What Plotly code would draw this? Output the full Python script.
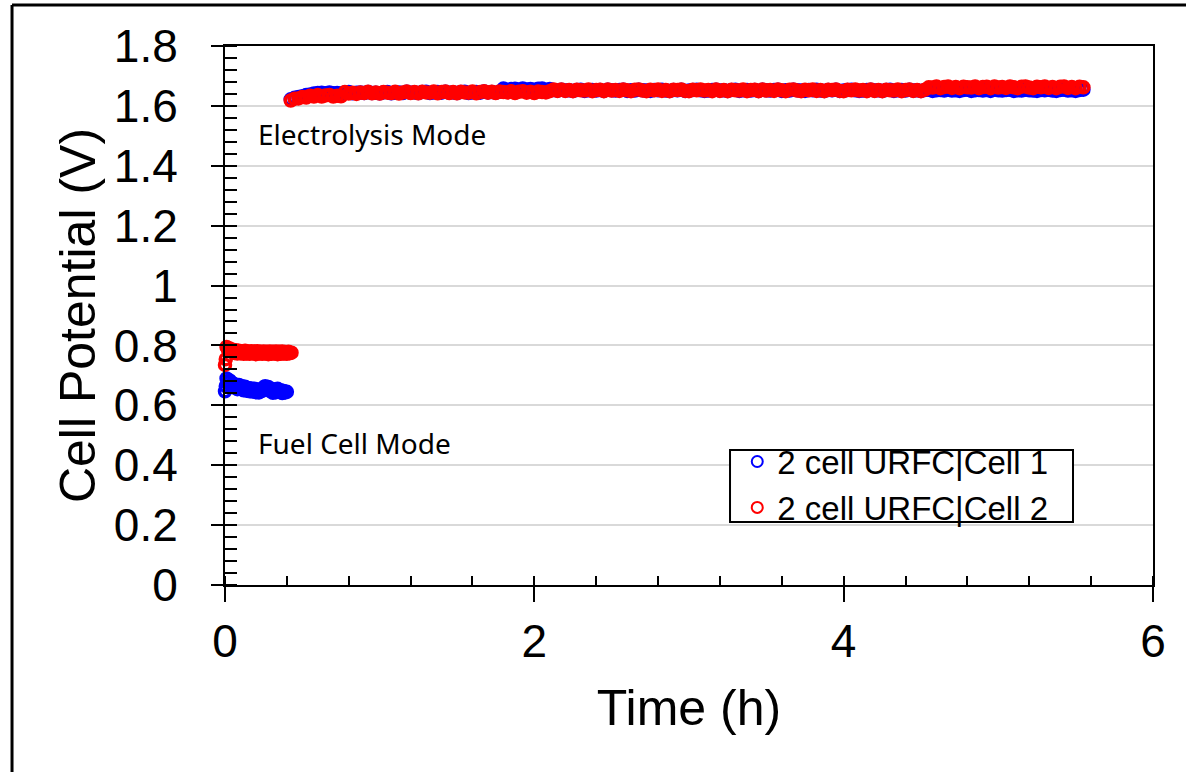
import plotly.graph_objects as go

# ---------------- data ----------------
t_fc = [0.0, 0.005, 0.01, 0.02, 0.03, 0.04, 0.05, 0.06, 0.07, 0.08, 0.09,
        0.10, 0.11, 0.12, 0.13, 0.14, 0.15, 0.16, 0.17, 0.18, 0.19,
        0.20, 0.21, 0.22, 0.23, 0.24, 0.25, 0.26, 0.27, 0.28, 0.29,
        0.30, 0.31, 0.32, 0.33, 0.34, 0.35, 0.36, 0.37, 0.38, 0.39,
        0.40, 0.41, 0.42, 0.43]

cell1_fc = [0.647, 0.664, 0.69, 0.676, 0.683, 0.665, 0.674, 0.66, 0.669, 0.654,
            0.668, 0.657, 0.664, 0.65, 0.662, 0.649, 0.658, 0.647, 0.656, 0.646,
            0.655, 0.644, 0.653, 0.643, 0.652, 0.648, 0.66, 0.664, 0.655, 0.661,
            0.648, 0.655, 0.642, 0.652, 0.644, 0.655, 0.646, 0.65, 0.641, 0.648,
            0.643, 0.645]

cell2_fc = [0.735, 0.754, 0.795, 0.784, 0.79, 0.779, 0.786, 0.775, 0.784, 0.773,
            0.782, 0.774, 0.781, 0.772, 0.782, 0.773, 0.78, 0.772, 0.781, 0.774,
            0.78, 0.771, 0.781, 0.773, 0.779, 0.772, 0.78, 0.773, 0.779, 0.771,
            0.78, 0.772, 0.779, 0.773, 0.78, 0.771, 0.779, 0.772, 0.78, 0.773,
            0.778, 0.772, 0.779, 0.774, 0.776]

t_ec = [0.425, 0.45, 0.475, 0.5, 0.525, 0.55, 0.575, 0.6, 0.625, 0.65,
        0.675, 0.7, 0.725, 0.75, 0.775, 0.8, 0.825, 0.85, 0.875, 0.9,
        0.925, 0.95, 0.975, 1.0, 1.025, 1.05, 1.075, 1.1, 1.125, 1.15,
        1.175, 1.2, 1.225, 1.25, 1.275, 1.3, 1.325, 1.35, 1.375, 1.4,
        1.425, 1.45, 1.475, 1.5, 1.525, 1.55, 1.575, 1.6, 1.625, 1.65,
        1.675, 1.7, 1.725, 1.75, 1.775, 1.8, 1.825, 1.85, 1.875, 1.9,
        1.925, 1.95, 1.975, 2.0, 2.025, 2.05, 2.075, 2.1, 2.125, 2.15,
        2.175, 2.2, 2.225, 2.25, 2.275, 2.3, 2.325, 2.35, 2.375, 2.4,
        2.425, 2.45, 2.475, 2.5, 2.525, 2.55, 2.575, 2.6, 2.625, 2.65,
        2.675, 2.7, 2.725, 2.75, 2.775, 2.8, 2.825, 2.85, 2.875, 2.9,
        2.925, 2.95, 2.975, 3.0, 3.025, 3.05, 3.075, 3.1, 3.125, 3.15,
        3.175, 3.2, 3.225, 3.25, 3.275, 3.3, 3.325, 3.35, 3.375, 3.4,
        3.425, 3.45, 3.475, 3.5, 3.525, 3.55, 3.575, 3.6, 3.625, 3.65,
        3.675, 3.7, 3.725, 3.75, 3.775, 3.8, 3.825, 3.85, 3.875, 3.9,
        3.925, 3.95, 3.975, 4.0, 4.025, 4.05, 4.075, 4.1, 4.125, 4.15,
        4.175, 4.2, 4.225, 4.25, 4.275, 4.3, 4.325, 4.35, 4.375, 4.4,
        4.425, 4.45, 4.475, 4.5, 4.525, 4.55, 4.575, 4.6, 4.625, 4.65,
        4.675, 4.7, 4.725, 4.75, 4.775, 4.8, 4.825, 4.85, 4.875, 4.9,
        4.925, 4.95, 4.975, 5.0, 5.025, 5.05, 5.075, 5.1, 5.125, 5.15,
        5.175, 5.2, 5.225, 5.25, 5.275, 5.3, 5.325, 5.35, 5.375, 5.4,
        5.425, 5.45, 5.475, 5.5, 5.525, 5.55]

cell1_ec = [1.622, 1.627, 1.63, 1.632, 1.636, 1.638, 1.641, 1.643, 1.644, 1.642,
            1.645, 1.642, 1.643, 1.641, 1.645, 1.646, 1.642, 1.644, 1.645, 1.643,
            1.646, 1.643, 1.644, 1.642, 1.645, 1.646, 1.642, 1.644, 1.645, 1.643,
            1.647, 1.644, 1.645, 1.643, 1.646, 1.647, 1.643, 1.645, 1.646, 1.644,
            1.647, 1.644, 1.645, 1.643, 1.646, 1.647, 1.643, 1.645, 1.646, 1.644,
            1.648, 1.645, 1.646, 1.644, 1.647, 1.658, 1.654, 1.656, 1.657, 1.655,
            1.658, 1.655, 1.656, 1.654, 1.657, 1.658, 1.654, 1.656, 1.653, 1.651,
            1.654, 1.651, 1.652, 1.65, 1.653, 1.654, 1.65, 1.652, 1.653, 1.651,
            1.653, 1.65, 1.654, 1.652, 1.651, 1.653, 1.654, 1.65, 1.652, 1.651,
            1.654, 1.652, 1.651, 1.65, 1.653, 1.652, 1.654, 1.651, 1.65, 1.653,
            1.652, 1.654, 1.65, 1.651, 1.653, 1.654, 1.652, 1.65, 1.651, 1.653,
            1.654, 1.651, 1.652, 1.65, 1.653, 1.654, 1.65, 1.652, 1.653, 1.651,
            1.653, 1.65, 1.654, 1.652, 1.651, 1.653, 1.654, 1.65, 1.652, 1.651,
            1.654, 1.652, 1.651, 1.65, 1.653, 1.652, 1.654, 1.651, 1.65, 1.653,
            1.652, 1.654, 1.65, 1.651, 1.653, 1.654, 1.652, 1.65, 1.651, 1.653,
            1.654, 1.651, 1.652, 1.65, 1.653, 1.654, 1.65, 1.652, 1.653, 1.651,
            1.654, 1.651, 1.652, 1.65, 1.653, 1.654, 1.65, 1.652, 1.653, 1.651,
            1.654, 1.651, 1.652, 1.65, 1.653, 1.654, 1.65, 1.652, 1.653, 1.651,
            1.653, 1.65, 1.654, 1.652, 1.651, 1.653, 1.654, 1.65, 1.652, 1.651,
            1.654, 1.652, 1.651, 1.65, 1.653, 1.652, 1.654, 1.651, 1.65, 1.653,
            1.654, 1.651, 1.652, 1.65, 1.653, 1.654]

cell2_ec = [1.618, 1.624, 1.625, 1.63, 1.628, 1.634, 1.631, 1.636, 1.631, 1.635,
            1.636, 1.631, 1.634, 1.632, 1.646, 1.641, 1.644, 1.64, 1.645, 1.643,
            1.647, 1.642, 1.645, 1.641, 1.646, 1.644, 1.643, 1.647, 1.641, 1.645,
            1.648, 1.643, 1.646, 1.642, 1.647, 1.645, 1.644, 1.648, 1.642, 1.646,
            1.648, 1.643, 1.646, 1.642, 1.647, 1.645, 1.644, 1.648, 1.642, 1.646,
            1.649, 1.644, 1.647, 1.643, 1.648, 1.646, 1.645, 1.649, 1.643, 1.647,
            1.649, 1.644, 1.647, 1.643, 1.648, 1.646, 1.645, 1.649, 1.655, 1.65,
            1.655, 1.65, 1.653, 1.649, 1.654, 1.652, 1.651, 1.655, 1.649, 1.653,
            1.654, 1.649, 1.655, 1.651, 1.653, 1.65, 1.655, 1.652, 1.649, 1.654,
            1.655, 1.651, 1.649, 1.654, 1.652, 1.655, 1.65, 1.653, 1.649, 1.654,
            1.653, 1.655, 1.65, 1.649, 1.654, 1.652, 1.655, 1.651, 1.653, 1.649,
            1.655, 1.65, 1.653, 1.649, 1.654, 1.652, 1.651, 1.655, 1.649, 1.653,
            1.654, 1.649, 1.655, 1.651, 1.653, 1.65, 1.655, 1.652, 1.649, 1.654,
            1.655, 1.651, 1.649, 1.654, 1.652, 1.655, 1.65, 1.653, 1.649, 1.654,
            1.653, 1.655, 1.65, 1.649, 1.654, 1.652, 1.655, 1.651, 1.653, 1.649,
            1.655, 1.65, 1.653, 1.649, 1.654, 1.652, 1.651, 1.655, 1.649, 1.653,
            1.655, 1.65, 1.653, 1.649, 1.654, 1.662, 1.661, 1.665, 1.659, 1.663,
            1.665, 1.66, 1.663, 1.659, 1.664, 1.662, 1.661, 1.665, 1.659, 1.663,
            1.664, 1.659, 1.665, 1.661, 1.663, 1.66, 1.665, 1.662, 1.659, 1.664,
            1.665, 1.661, 1.659, 1.664, 1.662, 1.665, 1.66, 1.663, 1.659, 1.664,
            1.665, 1.66, 1.663, 1.659, 1.664, 1.662]

series_names = ["2 cell URFC|Cell 1", "2 cell URFC|Cell 2"]
series_colors = ["#0000FF", "#FF0000"]
mode_labels = ["Electrolysis Mode", "Fuel Cell Mode"]
x_title = "Time (h)"
y_title = "Cell Potential (V)"

# ---------------- figure ----------------
ARIAL = "Liberation Sans, Arial, sans-serif"
SEGOE = "Noto Sans, Open Sans, sans-serif"

t1 = t_fc[:len(cell1_fc)] + t_ec
v1 = cell1_fc + cell1_ec
t2 = t_fc[:len(cell2_fc)] + t_ec
v2 = cell2_fc + cell2_ec

fig = go.Figure()
for name, tx, vy, col in [(series_names[0], t1, v1, series_colors[0]),
                          (series_names[1], t2, v2, series_colors[1])]:
    fig.add_trace(go.Scatter(
        x=tx, y=vy, mode="markers", name=name, cliponaxis=False,
        showlegend=False, legendgroup=name,
        marker=dict(symbol="circle-open", size=11, color=col,
                    line=dict(width=3.5, color=col)),
    ))
# legend entries (thin open circles, as in the original legend)
for name, col in zip(series_names, series_colors):
    fig.add_trace(go.Scatter(
        x=[None], y=[None], mode="markers", name=name, legendgroup=name,
        marker=dict(symbol="circle-open", size=11, color=col,
                    line=dict(width=2, color=col)),
    ))

fig.add_annotation(x=0.2, y=1.507, xref="x", yref="y", text=mode_labels[0],
                   showarrow=False, xanchor="left", yanchor="middle",
                   font=dict(family=SEGOE, size=28, color="black"))
fig.add_annotation(x=0.2, y=0.473, xref="x", yref="y", text=mode_labels[1],
                   showarrow=False, xanchor="left", yanchor="middle",
                   font=dict(family=SEGOE, size=28, color="black"))

# outer frame lines (left and top)
fig.add_shape(type="line", xref="paper", yref="paper",
              x0=-0.2295, x1=-0.2295, y0=1.076, y1=-0.36,
              line=dict(color="black", width=3))
fig.add_shape(type="line", xref="paper", yref="paper",
              x0=-0.2295, x1=1.05, y0=1.076, y1=1.076,
              line=dict(color="black", width=3))
# legend frame
fig.add_shape(type="rect", xref="paper", yref="paper", layer="above",
              x0=0.5442, x1=0.9138, y0=0.1169, y1=0.2505,
              fillcolor="white", line=dict(color="black", width=2))

fig.update_layout(
    width=1186, height=772,
    margin=dict(l=225, r=33, t=46, b=187),
    paper_bgcolor="white", plot_bgcolor="white",
    font=dict(family=ARIAL, color="black"),
    showlegend=True,
    legend=dict(x=0.552, y=0.281, xanchor="left", yanchor="top",
                bgcolor="rgba(0,0,0,0)", borderwidth=0,
                font=dict(family=ARIAL, size=33, color="black"),
                tracegroupgap=0),
)

fig.update_xaxes(
    range=[0, 6], dtick=2, tick0=0,
    showline=True, linecolor="black", linewidth=2, mirror=True,
    ticks="outside", ticklen=15, tickwidth=2, tickcolor="black",
    showgrid=False, zeroline=False,
    tickfont=dict(family=ARIAL, size=46, color="black"),
    ticklabelstandoff=0,
    minor=dict(dtick=0.4, ticks="inside", ticklen=9, tickwidth=2,
               tickcolor="black", showgrid=False),
    title=dict(text=x_title, font=dict(family=ARIAL, size=50, color="black"),
               standoff=24),
)
fig.update_yaxes(
    range=[0, 1.8], dtick=0.2, tick0=0,
    showline=True, linecolor="black", linewidth=2, mirror=True,
    ticks="outside", ticklen=12, tickwidth=2, tickcolor="black",
    showgrid=True, gridcolor="#d9d9d9", gridwidth=2, zeroline=False,
    tickfont=dict(family=ARIAL, size=46, color="black"),
    ticklabelstandoff=24,
    minor=dict(dtick=0.04, ticks="inside", ticklen=12, tickwidth=2,
               tickcolor="black", showgrid=False),
    title=dict(text=y_title, font=dict(family=ARIAL, size=50, color="black"),
               standoff=2),
)

fig.write_html("out.html", config={"displayModeBar": False},
               post_script="document.body.style.margin='0';")
